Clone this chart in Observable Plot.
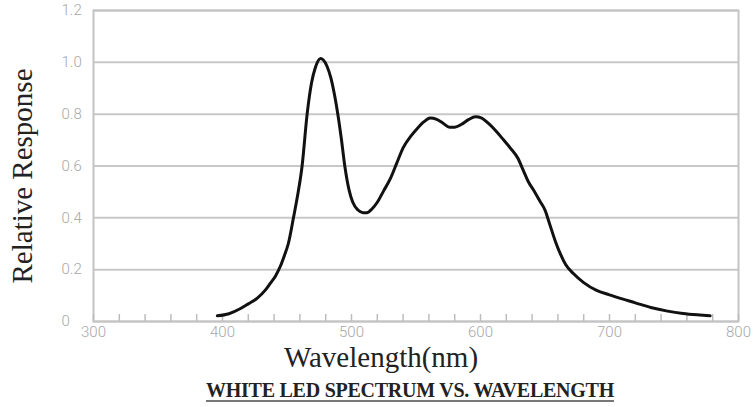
<!DOCTYPE html>
<html>
<head>
<meta charset="utf-8">
<script src="https://cdn.jsdelivr.net/npm/d3@7"></script>
<script src="https://cdn.jsdelivr.net/npm/@observablehq/plot@0.6"></script>
<style>
  html, body { margin: 0; padding: 0; background: #fff; }
  #wrap { position: relative; width: 756px; height: 407px; overflow: hidden; }
  #caption {
    position: absolute; left: 0; top: 378px; width: 820px; text-align: center;
    font-family: "Liberation Serif", "Times New Roman", serif; font-weight: bold;
    font-size: 20px; line-height: 24px; color: #222;
  }
  #caption span { text-decoration: underline; text-decoration-color: #777; text-decoration-thickness: 2px; text-underline-offset: 3px; letter-spacing: -0.25px; }
</style>
</head>
<body>
<div id="wrap">
  <div id="chart"></div>
  <div id="caption"><span>WHITE LED SPECTRUM VS. WAVELENGTH</span></div>
</div>
<script>
// Spectrum
const wavelength = [396, 405, 414, 420, 427, 433, 437, 441, 445, 448, 451, 455, 458, 461.7, 465.6, 469, 472, 476, 478, 481, 484, 487, 489.4, 492, 494.8, 498, 501, 505, 509, 512, 516, 520, 525, 530, 535, 540, 546, 551, 556, 561, 566, 571, 576, 580, 585, 591, 596, 601, 606, 612, 618, 623, 629, 633, 637, 642, 646, 650, 654, 658, 662, 666, 672, 680, 690, 700, 706, 720, 732, 745, 757, 770, 778];
const response   = [0.022, 0.03, 0.05, 0.068, 0.09, 0.12, 0.147, 0.175, 0.215, 0.255, 0.30, 0.40, 0.48, 0.60, 0.80, 0.92, 0.98, 1.015, 1.01, 0.985, 0.94, 0.87, 0.80, 0.71, 0.60, 0.51, 0.46, 0.43, 0.42, 0.42, 0.435, 0.46, 0.505, 0.55, 0.61, 0.67, 0.715, 0.745, 0.77, 0.785, 0.78, 0.765, 0.75, 0.75, 0.76, 0.78, 0.79, 0.785, 0.765, 0.735, 0.70, 0.67, 0.63, 0.585, 0.54, 0.50, 0.465, 0.43, 0.37, 0.31, 0.26, 0.22, 0.185, 0.15, 0.12, 0.103, 0.093, 0.072, 0.054, 0.04, 0.031, 0.025, 0.022];

const xTicks = [300, 400, 500, 600, 700, 800];
const xMinorTicks = [300, 320, 340, 360, 380, 400, 420, 440, 460, 480, 500, 520, 540, 560, 580, 600, 620, 640, 660, 680, 700, 720, 740, 760, 780, 800];
const yTicks = [0, 0.2, 0.4, 0.6, 0.8, 1.0, 1.2];
const yTickLabels = ["0", "0.2", "0.4", "0.6", "0.8", "1.0", "1.2"];
const yTitle = "Relative Response";
const xTitle = "Wavelength(nm)";

const data = wavelength.map((w, i) => ({w, r: response[i]}));

const tickFont = "Roboto, 'DejaVu Sans', sans-serif";
const serif = "'Liberation Serif', 'Times New Roman', serif";

const chart = Plot.plot({
  width: 756,
  height: 372,
  marginLeft: 93,
  marginRight: 18,
  marginTop: 10,
  marginBottom: 51,
  style: {background: "#fff", overflow: "visible"},
  x: {domain: [300, 800]},
  y: {domain: [0, 1.2]},
  marks: [
    Plot.gridY(yTicks, {stroke: "#c8c8c8", strokeOpacity: 1, strokeWidth: 2}),
    Plot.frame({stroke: "#c4c4c4", strokeWidth: 2}),
    Plot.axisX(xMinorTicks, {tickSize: -7, tickFormat: () => "", stroke: "#bdbdbd", strokeWidth: 1.5, label: null}),
    Plot.axisX(xTicks, {tickSize: 0, tickPadding: 5, tickFormat: d => String(d), color: "#a8a8a8", fontFamily: tickFont, fontWeight: 300, fontSize: 15, label: null}),
    Plot.axisY(yTicks, {tickSize: 0, tickPadding: 32, textAnchor: "start", tickFormat: d => yTickLabels[yTicks.indexOf(d)], color: "#a8a8a8", fontFamily: tickFont, fontWeight: 300, fontSize: 15, label: null}),
    Plot.line(data, {x: "w", y: "r", stroke: "#111", strokeWidth: 3, curve: "monotone-x"}),
    Plot.text([yTitle], {frameAnchor: "left", textAnchor: "middle", lineAnchor: "middle", dx: -71, dy: 10, rotate: -90, fontFamily: serif, fontSize: 29, fill: "#222"}),
    Plot.text([xTitle], {frameAnchor: "bottom", textAnchor: "middle", lineAnchor: "middle", dx: -35, dy: 36, fontFamily: serif, fontSize: 29, fill: "#222"})
  ]
});
document.getElementById("chart").appendChild(chart);
</script>
</body>
</html>
